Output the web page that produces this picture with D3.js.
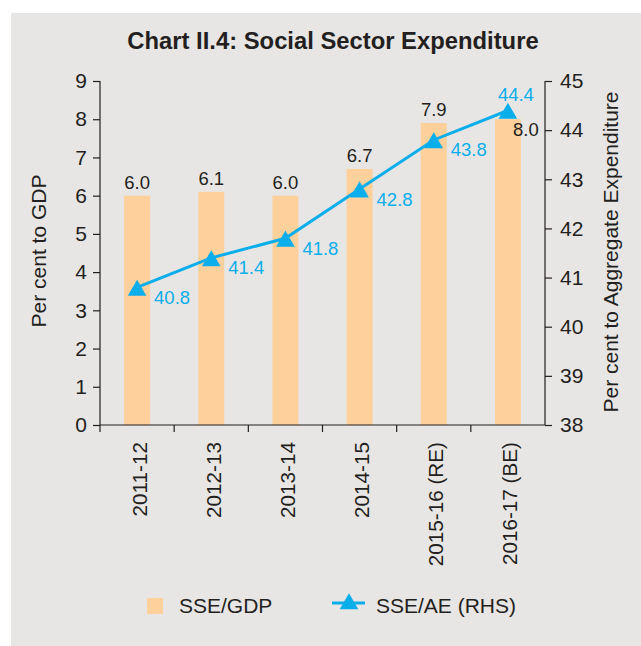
<!DOCTYPE html>
<html><head><meta charset="utf-8">
<script src="https://cdn.jsdelivr.net/npm/d3@7"></script>
<style>body{margin:0;background:#fff;}svg{display:block;font-family:"Liberation Sans",Arial,sans-serif;}</style>
</head><body>
<script>
const categories = ["2011-12","2012-13","2013-14","2014-15","2015-16 (RE)","2016-17 (BE)"];
const sseGdp = [6.0, 6.1, 6.0, 6.7, 7.9, 8.0];
const sseAe = [40.8, 41.4, 41.8, 42.8, 43.8, 44.4];
const leftTicks = [0,1,2,3,4,5,6,7,8,9];
const rightTicks = [38,39,40,41,42,43,44,45];

const W = 641, H = 646;
const svg = d3.select("body").append("svg").attr("width", W).attr("height", H);
svg.append("rect").attr("x", 11).attr("y", 13).attr("width", W - 11).attr("height", H - 13).attr("fill", "#E8E6E4");

const txt = "#231F20", barCol = "#FDD09C", lineCol = "#0AAEEB";
const L = 100, R = 545, T = 81, B = 425;

svg.append("text").attr("x", 333).attr("y", 49).attr("text-anchor", "middle")
  .attr("font-size", 23.8).attr("font-weight", "bold").attr("fill", txt).text("Chart II.4: Social Sector Expenditure");

const x = d3.scaleBand().domain(categories).range([L, R]).paddingInner(0.65).paddingOuter(0.325);
const xb = d3.scaleBand().domain(categories).range([L, R]);
const yL = d3.scaleLinear().domain([0, 9]).range([B, T]);
const yR = d3.scaleLinear().domain([38, 45]).range([B, T]);

// bars
svg.append("g").selectAll("rect").data(sseGdp).join("rect")
  .attr("x", (d, i) => x(categories[i])).attr("width", x.bandwidth())
  .attr("y", d => yL(d)).attr("height", d => B - yL(d)).attr("fill", barCol);

// axes
const gl = svg.append("g").attr("transform", `translate(${L},0)`)
  .call(d3.axisLeft(yL).tickValues(leftTicks).tickSize(7).tickPadding(6).tickFormat(d3.format("d")));
const gr = svg.append("g").attr("transform", `translate(${R},0)`)
  .call(d3.axisRight(yR).tickValues(rightTicks).tickSize(7).tickPadding(8).tickFormat(d3.format("d")));
[gl, gr].forEach(g => {
  g.select(".domain").attr("stroke", txt).attr("stroke-width", 1.2).attr("d", `M0,${T}V${B}`);
  g.selectAll(".tick line").attr("stroke", txt).attr("stroke-width", 1.2);
  g.selectAll(".tick text").attr("font-size", 21).attr("fill", txt).attr("font-family", "Liberation Sans, Arial, sans-serif");
});

// x axis
const gx = svg.append("g").attr("transform", `translate(0,${B})`);
gx.append("line").attr("x1", L).attr("x2", R).attr("stroke", txt).attr("stroke-width", 1.2);
gx.selectAll("line.tk").data(categories).join("line").attr("class", "tk")
  .attr("x1", d => xb(d)).attr("x2", d => xb(d)).attr("y1", 0).attr("y2", 7).attr("stroke", txt).attr("stroke-width", 1.2);
gx.selectAll("text").data(categories).join("text")
  .attr("transform", d => `translate(${xb(d) + xb.bandwidth() / 2 + 9.5},17) rotate(-90)`)
  .attr("text-anchor", "end").attr("font-size", 20.7).attr("fill", txt).text(d => d);

// axis titles
svg.append("text").attr("transform", "translate(46,251) rotate(-90)").attr("text-anchor", "middle")
  .attr("font-size", 21).attr("fill", txt).text("Per cent to GDP");
svg.append("text").attr("transform", "translate(618,252) rotate(-90)").attr("text-anchor", "middle")
  .attr("font-size", 21).attr("fill", txt).text("Per cent to Aggregate Expenditure");

// line
const cx = i => xb(categories[i]) + xb.bandwidth() / 2;
const line = d3.line().x((d, i) => cx(i)).y(d => yR(d));
svg.append("path").datum(sseAe).attr("d", line).attr("fill", "none").attr("stroke", lineCol).attr("stroke-width", 3);
const tri = d3.symbol().type(d3.symbolTriangle).size(150);
svg.append("g").selectAll("path").data(sseAe).join("path")
  .attr("transform", (d, i) => `translate(${cx(i)},${yR(d) + 3})`).attr("d", tri).attr("fill", lineCol);

// bar labels
svg.append("g").selectAll("text").data(sseGdp).join("text")
  .attr("x", (d, i) => i === 5 ? cx(i) + 18 : cx(i))
  .attr("y", (d, i) => i === 5 ? yL(d) + 17 : yL(d) - 7)
  .attr("text-anchor", "middle").attr("font-size", 18.5).attr("fill", txt).text(d => d.toFixed(1));

// line labels
svg.append("g").selectAll("text").data(sseAe).join("text")
  .attr("x", (d, i) => i === 5 ? cx(i) + 8 : cx(i) + 17)
  .attr("y", (d, i) => i === 5 ? yR(d) - 9 : yR(d) + 16.5)
  .attr("text-anchor", (d, i) => i === 5 ? "middle" : "start")
  .attr("font-size", 18.5).attr("fill", lineCol).text(d => d.toFixed(1));

// legend
const lg = svg.append("g");
lg.append("rect").attr("x", 147).attr("y", 598).attr("width", 16).attr("height", 16).attr("fill", barCol);
lg.append("text").attr("x", 179).attr("y", 613).attr("font-size", 21).attr("fill", txt).text("SSE/GDP");
lg.append("line").attr("x1", 332).attr("x2", 365).attr("y1", 603).attr("y2", 603).attr("stroke", lineCol).attr("stroke-width", 3);
lg.append("path").attr("transform", "translate(349,604)").attr("d", tri).attr("fill", lineCol);
lg.append("text").attr("x", 376).attr("y", 613).attr("font-size", 21).attr("fill", txt).text("SSE/AE (RHS)");
</script>
</body></html>
